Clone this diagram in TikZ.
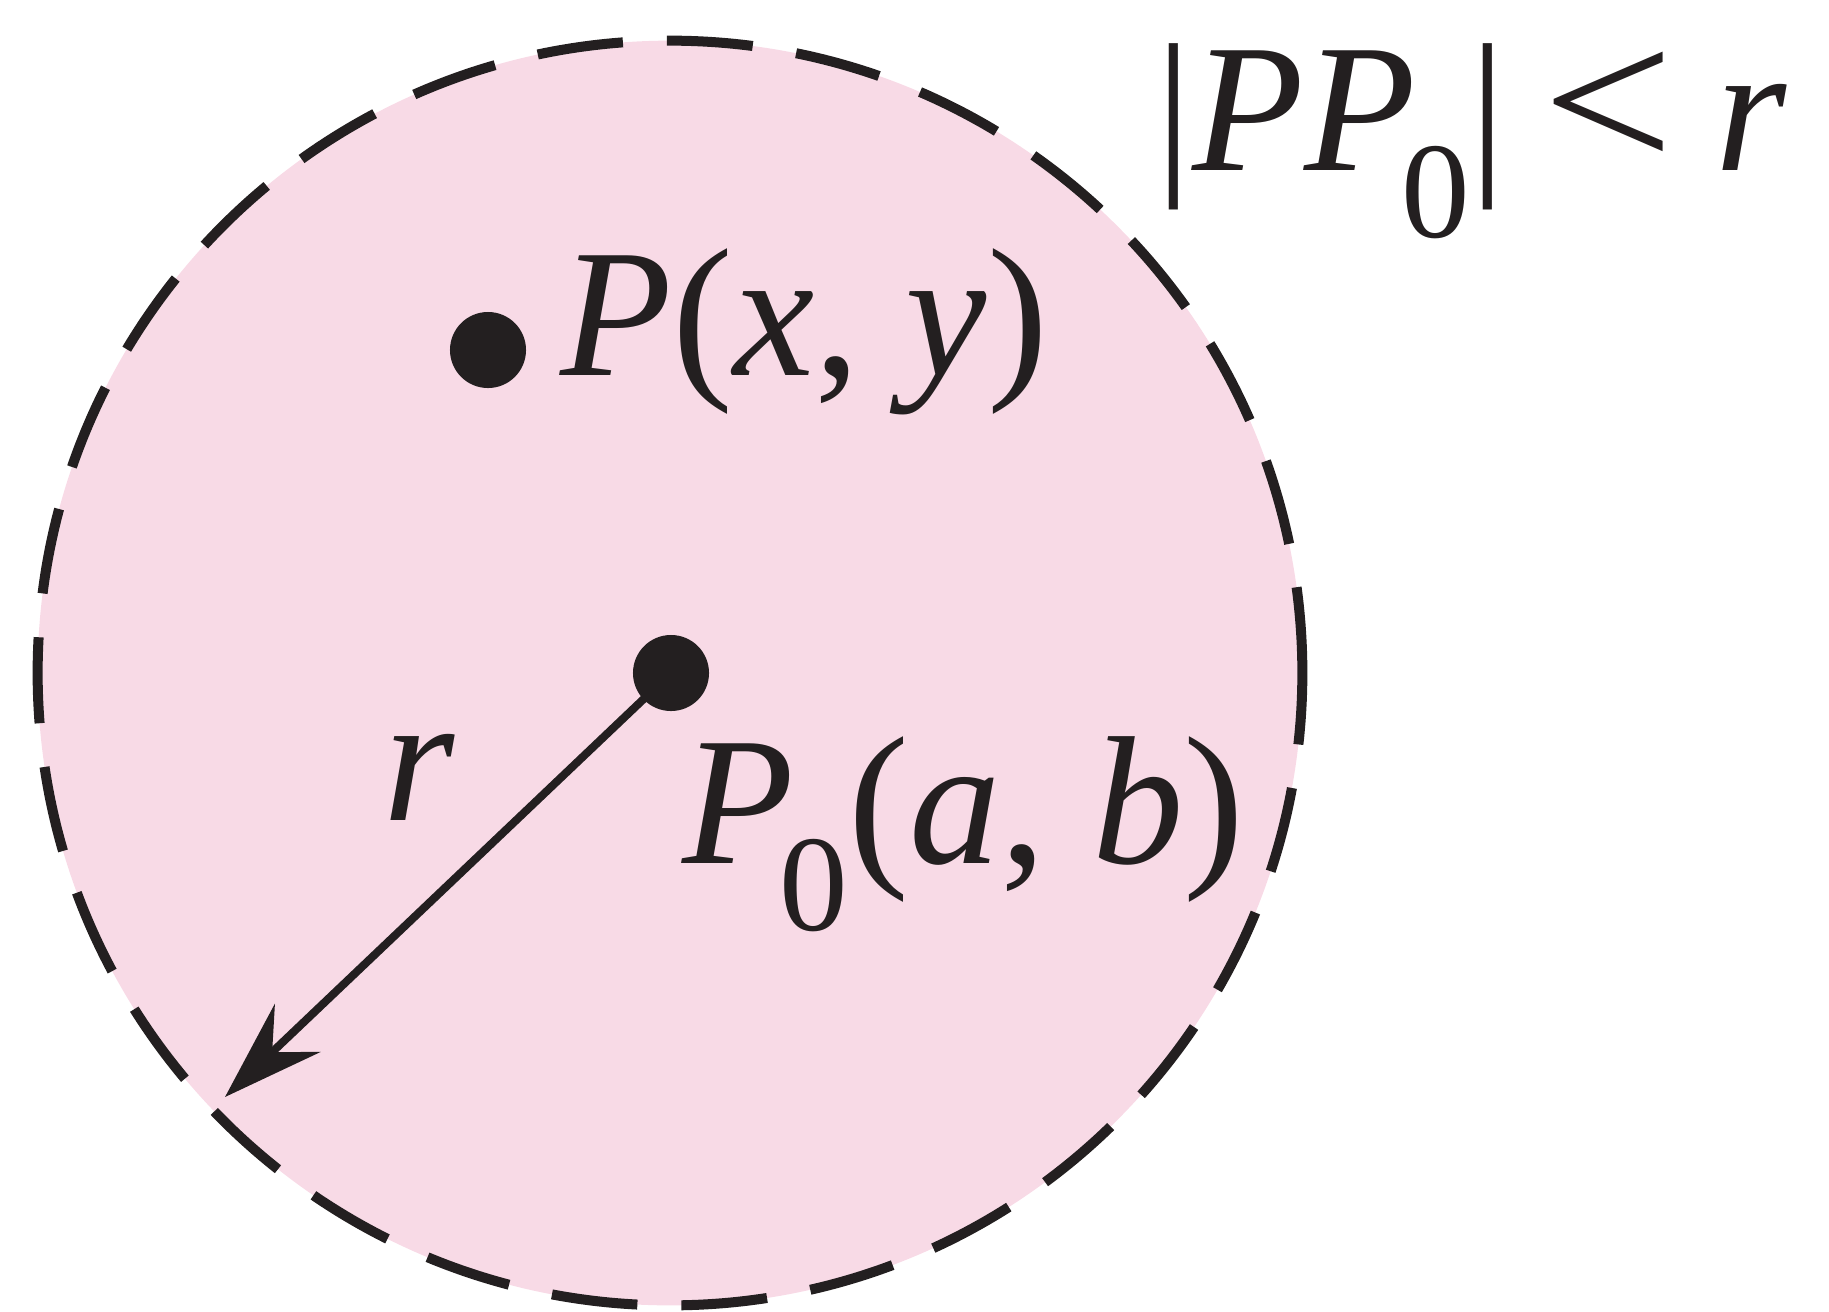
\documentclass[tikz,border=0pt]{standalone}
\usepackage{graphicx}
\usepackage{fontspec}
\setmainfont{Liberation Serif}
\usepackage{tikz}
\usetikzlibrary{arrows.meta}
\definecolor{rosa}{HTML}{F8DAE6}
\definecolor{tinta}{HTML}{231F20}
\newcommand{\cero}{\kern-0.08em\raisebox{-0.67cm}{\fontsize{39}{39}\selectfont 0}}
\newcommand{\menor}{\hspace{0.2em}\scalebox{1.28}[1.13]{<}\hspace{0.22em}}

\begin{document}
\begin{tikzpicture}[x=0.01cm, y=-0.01cm, font=\fontsize{52}{62}\selectfont,
  disco/.style={circle, minimum size=12.64cm, inner sep=0pt, outer sep=0pt, fill=rosa,
    draw=tinta, line width=0.1cm, dash pattern=on 0.86cm off 0.44cm},
  punto/.style={circle, fill=tinta, inner sep=0pt, minimum size=0.76cm},
  texto/.style={anchor=base west, inner sep=0pt, text=tinta},
  flecha/.style={draw=tinta, line width=0.08cm, -{Stealth[length=1cm, width=0.66cm, inset=0.35cm]}}]
  \useasboundingbox (0,0) rectangle (1829,1311);
  \node[disco] (region) at (670,673) {};
  \node[punto] (centro) at (671,673) {};
  \node[punto] (p) at (488,350) {};
  \coordinate (borde) at (225,1097);
  \draw[flecha] (centro.center) -- (borde);
  \node[texto] (pxy) at (560,375) {\textit{P}(\textit{x}, \textit{y})};
  \node[texto] (pab) at (682,863) {\textit{P}\cero(\textit{a}, \textit{b})};
  \node[texto] (radio) at (383,820) {\textit{r}};
  \node[texto] (cond) at (1155,170) {|\textit{PP}\cero|\menor\textit{r}};
\end{tikzpicture}
\end{document}
